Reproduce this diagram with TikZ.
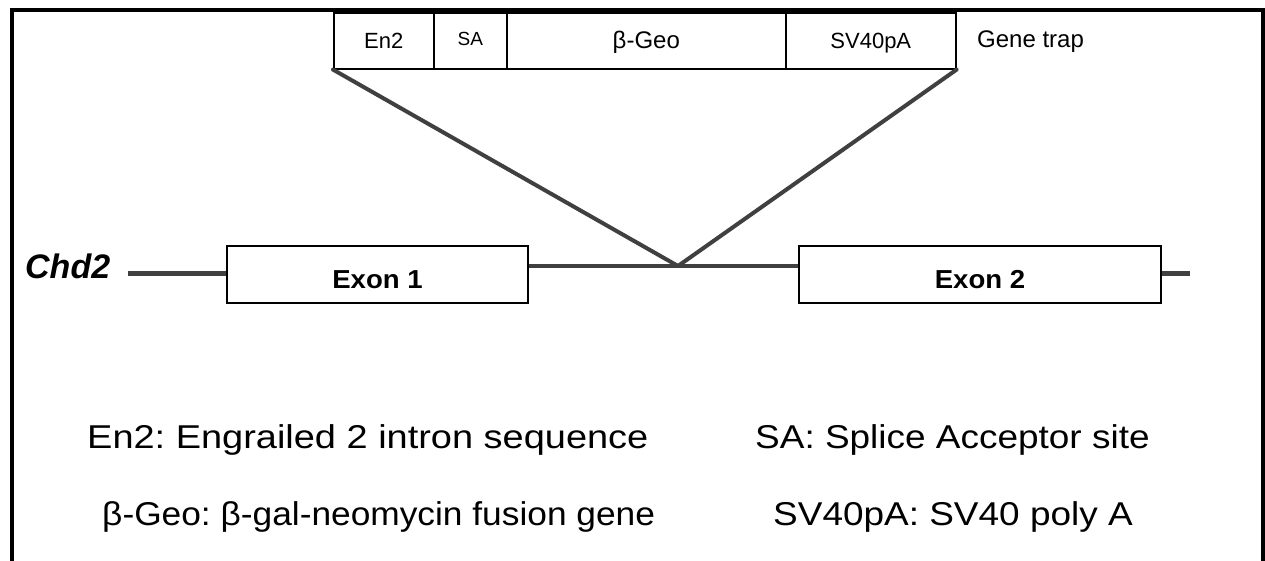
\documentclass[tikz,border=0pt]{standalone}
\usepackage{fontspec}
\setmainfont{Liberation Sans}
\newfontfamily\widesans[FakeStretch=1.12]{Liberation Sans}
\newfontfamily\widersans[FakeStretch=1.15]{Liberation Sans}
\newfontfamily\midsans[FakeStretch=1.07]{Liberation Sans}
\newfontfamily\exonsans[FakeStretch=1.06]{Liberation Sans}
\definecolor{dnagray}{RGB}{64,64,64}
\begin{document}
\begin{tikzpicture}[x=1pt,y=-1pt,
  frame/.style={line width=4pt},
  segbox/.style={draw, line width=1.6pt, minimum height=56pt, inner sep=0pt,
    anchor=north west, text height=16pt, text depth=0pt,
    font=\fontsize{22}{26}\selectfont},
  exonbox/.style={draw, line width=2pt, minimum height=57pt, inner sep=0pt,
    anchor=north west, text height=27pt, text depth=0pt,
    font=\exonsans\bfseries\fontsize{26}{30}\selectfont},
  dna/.style={draw=dnagray, line width=4pt},
  legend/.style={anchor=base west, inner sep=0pt,
    font=\frenchspacing\widesans\fontsize{33}{38}\selectfont}]
\useasboundingbox (0,0) rectangle (1265,561);

% open frame: top edge and both sides
\draw[frame] (11.5,561) -- (11.5,10) -- (1262.5,10) -- (1262.5,561);

% gene trap cassette
\node[segbox, minimum width=100pt] (en2) at (333,12) {En2};
\node[segbox, minimum width=73pt, text height=10pt,
      font=\fontsize{19}{22}\selectfont] (sa) at (433,12) {SA};
\node[segbox, minimum width=279pt, font=\fontsize{24}{28}\selectfont]
  (geo) at (506,12) {β-Geo};
\node[segbox, minimum width=170pt] (pa) at (785,12) {SV40pA};
\node[anchor=base west, inner sep=0pt, font=\fontsize{24}{28}\selectfont]
  (trap) at (977,48) {Gene trap};

% Chd2 locus
\node[anchor=base west, inner sep=0pt,
      font=\bfseries\itshape\fontsize{34}{40}\selectfont] (chd) at (25,278) {Chd2};
\node[exonbox, minimum width=301pt] (e1) at (226,245) {Exon 1};
\node[exonbox, minimum width=362pt] (e2) at (798,245) {Exon 2};
\coordinate (j) at (678,266);
\coordinate (l0) at (128,273);
\coordinate (r0) at (1190,273);

\draw[dna, line width=5pt] (l0) -- (e1.west |- l0);
\draw[dna] (e1.east |- j) -- (j) -- (e2.west |- j);
\draw[dna, line width=5pt] (e2.east |- r0) -- (r0);

% insertion lines
\draw[dna, line cap=round] (en2.south west) -- (j);
\draw[dna, line cap=round] (pa.south east) -- (j);

% legend
\node[legend, font=\frenchspacing\widersans\fontsize{33}{38}\selectfont]
  (k1) at (87,448) {En2: Engrailed 2 intron sequence};
\node[legend] (k2) at (755,448) {SA: Splice Acceptor site};
\node[legend, font=\frenchspacing\midsans\fontsize{33}{38}\selectfont]
  (k3) at (102,525) {β-Geo: β-gal-neomycin fusion gene};
\node[legend] (k4) at (773,525) {SV40pA: SV40 poly A};
\end{tikzpicture}
\end{document}
